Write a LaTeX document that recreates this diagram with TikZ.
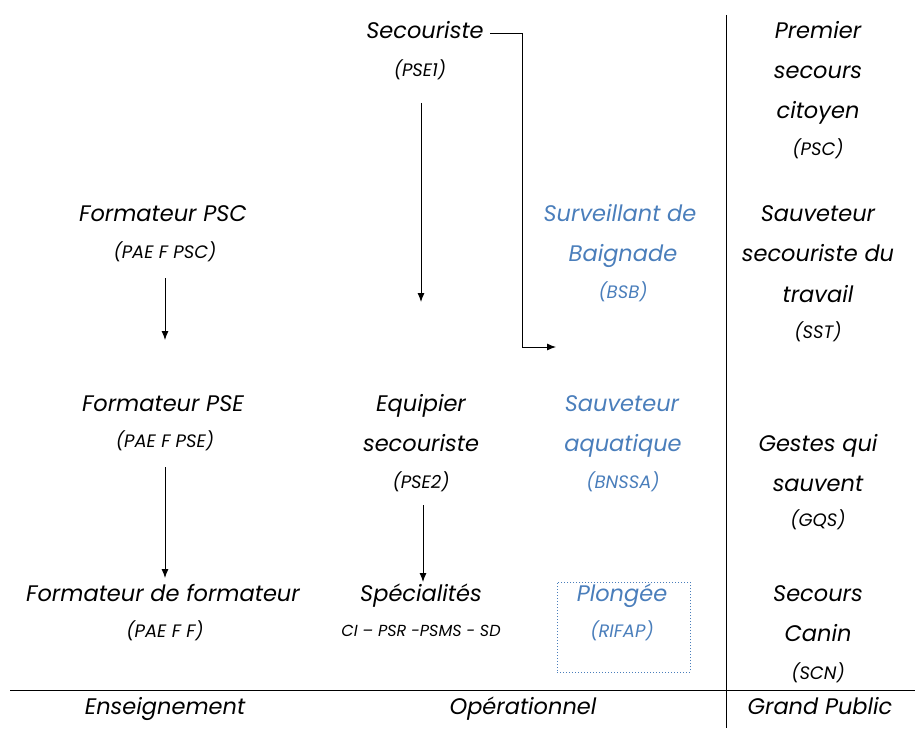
\documentclass[tikz,border=0pt]{standalone}
\usepackage{fontspec}
\setmainfont{Poppins}
\usetikzlibrary{arrows.meta}
\definecolor{bl}{HTML}{4A7EBB}
\begin{document}
\begin{tikzpicture}[x=1pt,y=-1pt,
  t/.style={font=\itshape\fontsize{22.5}{26}\selectfont,inner sep=1pt,text height=16pt,text depth=5pt},
  s/.style={font=\itshape\fontsize{18}{21}\selectfont,inner sep=1pt,text height=13pt,text depth=4pt},
  xs/.style={font=\itshape\fontsize{16}{19}\selectfont,inner sep=1pt,text height=11pt,text depth=3pt},
  b/.style={text=bl},
  arr/.style={-{Latex[length=9pt,width=7pt]},line width=0.9pt}]
\useasboundingbox (0,0) rectangle (921,741);
\node[t] (sec) at (425,33) {Secouriste};
\node[s] (pse1) at (420,72) {(PSE1)};
\coordinate (c0) at (490,33); \coordinate (c1) at (522,33); \coordinate (c2) at (522,347); \coordinate (c3) at (556,347);
\draw[arr] (c0) -- (c1) -- (c2) -- (c3);
\coordinate (a1) at (421,103); \coordinate (a2) at (421,302);
\draw[arr] (a1) -- (a2);
\node[t] (fpsc) at (163,216) {Formateur PSC};
\node[s] (pfpsc) at (165,254) {(PAE F PSC)};
\coordinate (b1) at (165,278); \coordinate (b2) at (165,340);
\draw[arr] (b1) -- (b2);
\node[t] (fpse) at (163,406) {Formateur PSE};
\node[s] (pfpse) at (165,443) {(PAE F PSE)};
\coordinate (d1) at (165,467); \coordinate (d2) at (165,578);
\draw[arr] (d1) -- (d2);
\node[t] (ff) at (163,596) {Formateur de formateur};
\node[s] (pff) at (165,633) {(PAE F F)};
\node[t] (eq1) at (421,406) {Equipier};
\node[t] (eq2) at (421,446) {secouriste};
\node[s] (pse2) at (421,484) {(PSE2)};
\coordinate (e1) at (423,505); \coordinate (e2) at (423,582);
\draw[arr] (e1) -- (e2);
\node[t] (spe) at (421,596) {Spécialités};
\node[xs] (spel) at (421,632) {CI – PSR -PSMS - SD};
\node[t,b] (bsb1) at (620,216) {Surveillant de};
\node[t,b] (bsb2) at (623,256) {Baignade};
\node[s,b] (bsb3) at (623,294) {(BSB)};
\node[t,b] (bn1) at (622,406) {Sauveteur};
\node[t,b] (bn2) at (623,446) {aquatique};
\node[s,b] (bn3) at (623,484) {(BNSSA)};
\node[draw=bl,dotted,line width=1pt,minimum width=133pt,minimum height=90pt] (box) at (623.5,627) {};
\node[t,b] (pl1) at (622,596) {Plongée};
\node[s,b] (pl2) at (622,633) {(RIFAP)};
\node[t] (r1) at (818,33) {Premier};
\node[t] (r2) at (818,73) {secours};
\node[t] (r3) at (818,113) {citoyen};
\node[s] (r4) at (818,151) {(PSC)};
\node[t] (r5) at (818,216) {Sauveteur};
\node[t] (r6) at (818,256) {secouriste du};
\node[t] (r7) at (818,297) {travail};
\node[s] (r8) at (818,334) {(SST)};
\node[t] (r9) at (818,446) {Gestes qui};
\node[t] (r10) at (818,486) {sauvent};
\node[s] (r11) at (818,522) {(GQS)};
\node[t] (r12) at (818,596) {Secours};
\node[t] (r13) at (818,636) {Canin};
\node[s] (r14) at (818,675) {(SCN)};
\coordinate (v1) at (726,15); \coordinate (v2) at (726,728);
\draw[line width=0.8pt] (v1) -- (v2);
\coordinate (h1) at (10,690); \coordinate (h2) at (915,690);
\draw[line width=0.8pt] (h1) -- (h2);
\node[t] (l1) at (165,709) {Enseignement};
\node[t] (l2) at (523,709) {Opérationnel};
\node[t] (l3) at (820,709) {Grand Public};
\end{tikzpicture}
\end{document}
